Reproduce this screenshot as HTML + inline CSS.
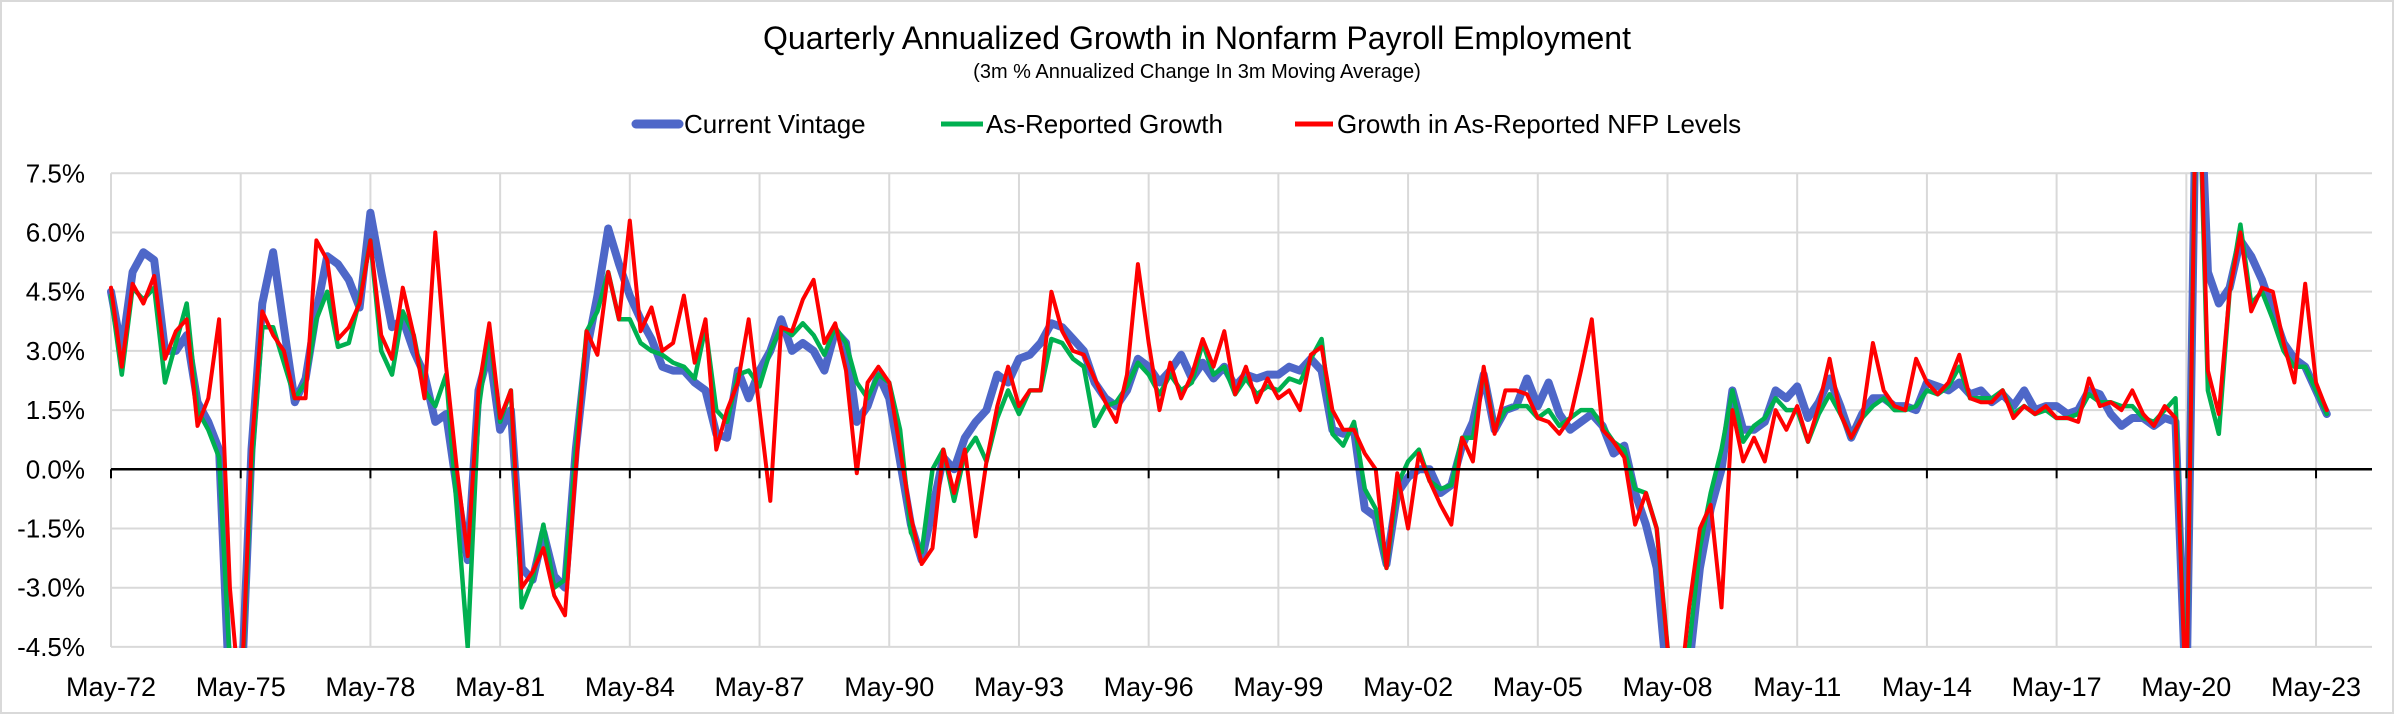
<!DOCTYPE html>
<html><head><meta charset="utf-8"><title>Quarterly Annualized Growth in Nonfarm Payroll Employment</title>
<style>
html,body{margin:0;padding:0;background:#fff;width:2394px;height:714px;overflow:hidden;position:relative;}
svg{display:block;position:absolute;left:0;top:0;font-family:"Liberation Sans",Arial,sans-serif;}
</style>
<script>
// quarterly observations starting May-72 (step 3 months)
const startYear = 1972;
const startMonth = 4; // May (0-based)
const stepMonths = 3;
const currentVintage = [4.5,3.0,5.0,5.5,5.3,3.0,3.0,3.4,1.7,1.2,0.5,-6,-8,0.5,4.2,5.5,3.6,1.7,2.3,4.0,5.4,5.2,4.8,4.1,6.5,5.0,3.6,3.8,3.0,2.4,1.2,1.4,-0.5,-2.3,2.0,3.0,1.0,1.5,-2.5,-2.8,-1.6,-2.7,-3.0,0.5,3.0,4.4,6.1,5.2,4.4,3.8,3.3,2.6,2.5,2.5,2.2,2.0,0.9,0.8,2.5,1.8,2.5,3.0,3.8,3.0,3.2,3.0,2.5,3.5,3.2,1.2,1.6,2.4,1.8,0.2,-1.4,-2.3,-1.0,0.3,0.0,0.8,1.2,1.5,2.4,2.2,2.8,2.9,3.2,3.7,3.6,3.3,3.0,2.2,1.8,1.6,2.0,2.8,2.6,2.2,2.5,2.9,2.3,2.7,2.3,2.6,2.1,2.4,2.3,2.4,2.4,2.6,2.5,2.8,2.5,1.0,0.9,1.0,-1.0,-1.2,-2.4,-0.6,-0.2,0.0,0.0,-0.6,-0.4,0.6,1.2,2.4,1.0,1.5,1.6,2.3,1.6,2.2,1.4,1.0,1.2,1.4,1.1,0.4,0.6,-0.6,-1.4,-2.5,-5.5,-7.0,-5.0,-2.5,-1.0,0.0,2.0,1.0,1.0,1.2,2.0,1.8,2.1,1.3,1.7,2.3,1.6,0.8,1.4,1.8,1.8,1.6,1.6,1.5,2.2,2.1,2.0,2.2,1.9,2.0,1.7,1.9,1.6,2.0,1.5,1.6,1.6,1.4,1.5,2.0,1.9,1.4,1.1,1.3,1.3,1.1,1.3,1.2,-40,40,5.0,4.2,4.6,5.8,5.4,4.8,4.0,3.2,2.8,2.6,2.0,1.4];
const asReportedGrowth = [4.4,2.4,4.6,4.3,4.6,2.2,3.2,4.2,1.5,1.0,0.3,-5,-8,0.0,3.6,3.6,2.7,1.8,2.2,3.8,4.5,3.1,3.2,4.3,5.8,3.0,2.4,4.0,3.4,2.0,1.6,2.4,-1.0,-4.5,1.5,3.5,1.2,2.0,-3.5,-2.8,-1.4,-3.0,-2.8,0.5,3.5,4.0,5.0,3.8,3.8,3.2,3.0,2.9,2.7,2.6,2.3,3.6,1.5,1.2,2.4,2.5,2.1,3.0,3.6,3.4,3.7,3.4,2.9,3.6,3.2,2.2,1.8,2.4,2.2,1.0,-1.6,-2.1,0.0,0.5,-0.8,0.4,0.8,0.2,1.3,2.0,1.4,2.0,2.0,3.3,3.2,2.8,2.6,1.1,1.6,1.7,2.1,2.7,2.4,1.9,2.4,2.0,2.2,3.2,2.4,2.6,1.9,2.3,1.9,2.1,2.0,2.3,2.2,2.8,3.3,0.9,0.6,1.2,-0.5,-1.0,-2.5,-0.4,0.2,0.5,-0.3,-0.5,-0.4,0.8,0.8,2.5,1.0,1.5,1.6,1.6,1.3,1.5,1.1,1.3,1.5,1.5,1.1,0.7,0.5,-0.5,-0.6,-1.5,-4.5,-7.0,-4.5,-2.0,-0.6,0.5,2.0,0.7,1.1,1.3,1.8,1.5,1.5,0.7,1.4,1.9,1.4,0.8,1.3,1.6,1.8,1.5,1.5,1.6,2.0,1.9,2.1,2.6,1.8,1.8,1.8,2.0,1.4,1.6,1.4,1.5,1.3,1.3,1.4,1.9,1.7,1.7,1.6,1.6,1.3,1.2,1.5,1.8,-40,40,2.0,0.9,4.5,6.2,4.2,4.5,3.8,3.0,2.6,2.6,2.0,1.4];
const asReportedLevels = [4.6,2.6,4.7,4.2,4.9,2.8,3.5,3.8,1.1,1.8,3.8,-3,-8,0.5,4.0,3.4,3.0,1.8,1.8,5.8,5.3,3.3,3.6,4.2,5.8,3.4,2.8,4.6,3.4,1.8,6.0,2.6,0.0,-2.2,2.0,3.7,1.3,2.0,-3.0,-2.6,-2.0,-3.2,-3.7,0.0,3.5,2.9,5.0,3.8,6.3,3.5,4.1,3.0,3.2,4.4,2.7,3.8,0.5,1.5,2.2,3.8,1.5,-0.8,3.6,3.5,4.3,4.8,3.2,3.7,2.5,-0.1,2.2,2.6,2.2,0.5,-1.2,-2.4,-2.0,0.5,-0.6,0.5,-1.7,0.2,1.6,2.6,1.6,2.0,2.0,4.5,3.5,3.0,2.9,2.3,1.7,1.2,2.4,5.2,3.2,1.5,2.7,1.8,2.4,3.3,2.6,3.5,1.9,2.6,1.7,2.3,1.8,2.0,1.5,2.9,3.1,1.5,1.0,1.0,0.4,0.0,-2.5,-0.1,-1.5,0.4,-0.3,-0.9,-1.4,0.8,0.2,2.6,0.9,2.0,2.0,1.9,1.3,1.2,0.9,1.3,2.5,3.8,1.0,0.7,0.3,-1.4,-0.6,-1.5,-4.5,-7.0,-3.5,-1.5,-0.9,-3.5,1.5,0.2,0.8,0.2,1.5,1.0,1.6,0.7,1.6,2.8,1.4,0.8,1.3,3.2,2.0,1.6,1.5,2.8,2.2,1.9,2.2,2.9,1.8,1.7,1.7,2.0,1.3,1.6,1.4,1.6,1.3,1.3,1.2,2.3,1.6,1.7,1.5,2.0,1.4,1.1,1.6,1.3,-40,40,2.5,1.4,4.5,6.0,4.0,4.6,4.5,3.2,2.2,4.7,2.2,1.5];
const yTicks = [-4.5,-3.0,-1.5,0.0,1.5,3.0,4.5,6.0,7.5];
const xTickLabels = ["May-72","May-75","May-78","May-81","May-84","May-87","May-90","May-93","May-96","May-99","May-02","May-05","May-08","May-11","May-14","May-17","May-20","May-23"];

const NS = "http://www.w3.org/2000/svg";
const X0 = 111, PXM = 3.603, Y0 = 469.3, PXP = 39.47;
const plotLeft = 111, plotRight = 2372, plotTop = 173.3, plotBottom = 647;
const yMinDraw = -6.1, yMaxDraw = 11.8;
function xMonth(m){ return X0 + m*PXM; }
function yVal(v){ return Y0 - Math.max(yMinDraw, Math.min(yMaxDraw, v))*PXP; }
function mk(tag, attrs, parent){ const e=document.createElementNS(NS,tag); for(const k in attrs) e.setAttribute(k,attrs[k]); parent.appendChild(e); return e; }

function drawSeries(series,vals,color,width,name){
  const pts = vals.map(function(v,q){ return xMonth(q*stepMonths).toFixed(1)+','+yVal(v).toFixed(1); }).join(' ');
  const pl = mk('polyline',{points:pts,fill:'none',stroke:color,'stroke-width':width,'stroke-linejoin':'round','stroke-linecap':'round'},series);
  
  
}

document.addEventListener('DOMContentLoaded',function(){
  const grid = document.getElementById('grid');
  const axis = document.getElementById('axis');
  const series = document.getElementById('series');

  yTicks.forEach(function(t){
    const y = yVal(t);
    if (t !== 0) {
      const gl = mk('line',{x1:plotLeft,x2:plotRight,y1:y,y2:y,stroke:'#d9d9d9','stroke-width':2},grid);
      
      
    }
    const lab = mk('text',{x:85,y:y+9,'text-anchor':'end','font-size':26,fill:'#000'},axis);
    lab.textContent = t.toFixed(1)+'%';
    
    
  });

  xTickLabels.forEach(function(lbl,k){
    const x = xMonth(k*36);
    const vl = mk('line',{x1:x,x2:x,y1:plotTop,y2:plotBottom,stroke:'#d9d9d9','stroke-width':2},grid);
    
    
    const tk = mk('line',{x1:x,x2:x,y1:yVal(0),y2:yVal(0)+9,stroke:'#000','stroke-width':2},axis);
    
    
    const lab = mk('text',{x:x,y:696,'text-anchor':'middle','font-size':27,fill:'#000'},axis);
    lab.textContent = lbl;
    
    
  });

  const zl = mk('line',{x1:plotLeft,x2:plotRight,y1:yVal(0),y2:yVal(0),stroke:'#000','stroke-width':2.5},axis);
  
  

  drawSeries(series,currentVintage,'#4e67c8',8,'current-vintage-line');
  drawSeries(series,asReportedGrowth,'#00b050',4.5,'as-reported-growth-line');
  drawSeries(series,asReportedLevels,'#ff0000',4,'as-reported-levels-line');
});
</script>
</head>
<body>
<svg id="chart" width="2394" height="714" viewBox="0 0 2394 714" xmlns="http://www.w3.org/2000/svg">
<rect x="1" y="1" width="2392" height="712" fill="#fff" stroke="#d9d9d9" stroke-width="2"/>
<text x="1197" y="49" text-anchor="middle" font-size="32" fill="#000">Quarterly Annualized Growth in Nonfarm Payroll Employment</text>
<text x="1197" y="78" text-anchor="middle" font-size="20" fill="#000">(3m % Annualized Change In 3m Moving Average)</text>
<g>
 <g>
  <line x1="636" y1="124" x2="679" y2="124" stroke="#4e67c8" stroke-width="9" stroke-linecap="round"/>
  <text x="684" y="133" font-size="26">Current Vintage</text>
 </g>
 <g>
  <line x1="941" y1="124" x2="983" y2="124" stroke="#00b050" stroke-width="5"/>
  <text x="986" y="133" font-size="26">As-Reported Growth</text>
 </g>
 <g>
  <line x1="1295" y1="124" x2="1333" y2="124" stroke="#ff0000" stroke-width="5"/>
  <text x="1337" y="133" font-size="26">Growth in As-Reported NFP Levels</text>
 </g>
</g>
<defs><clipPath id="plotclip"><rect x="100" y="172" width="2275" height="476"/></clipPath></defs>
<g id="grid"></g>
<g id="series" clip-path="url(#plotclip)"></g>
<g id="axis"></g>
</svg>
</body></html>
